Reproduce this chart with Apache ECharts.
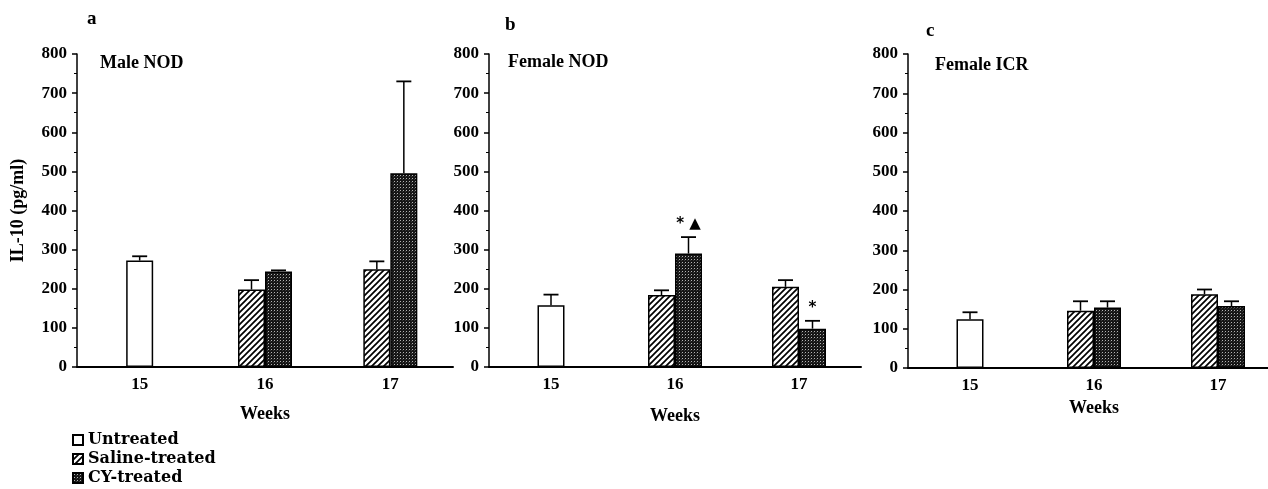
<!DOCTYPE html>
<html><head><meta charset="utf-8">
<script src="https://cdn.jsdelivr.net/npm/echarts@6/dist/echarts.min.js"></script>
<style>html,body{margin:0;padding:0;background:#fff}#c{width:1268px;height:489px}</style>
</head><body><div id="c"></div>
<script>
// ---------- data ----------
const weeks = ['15', '16', '17'];
const seriesNames = ['Untreated', 'Saline-treated', 'CY-treated'];
const panelLetters = ['a', 'b', 'c'];
const panelTitles = ['Male NOD', 'Female NOD', 'Female ICR'];
const yAxisTitle = 'IL-10 (pg/ml)';
const xAxisTitle = 'Weeks';

// Panel a: Male NOD
const untreatedA = [272, null, null];
const untreatedErrA = [11, null, null];
const salineA = [null, 198, 250];
const salineErrA = [null, 24, 20];
const cyA = [null, 244, 495];
const cyErrA = [null, 3, 235];
const sigA = [null, null, null];

// Panel b: Female NOD
const untreatedB = [158, null, null];
const untreatedErrB = [27, null, null];
const salineB = [null, 184, 205];
const salineErrB = [null, 12, 17];
const cyB = [null, 290, 98];
const cyErrB = [null, 42, 20];
const sigB = [null, '* \u25B2', '*'];

// Panel c: Female ICR
const untreatedC = [124, null, null];
const untreatedErrC = [18, null, null];
const salineC = [null, 146, 188];
const salineErrC = [null, 24, 12];
const cyC = [null, 154, 158];
const cyErrC = [null, 16, 12];
const sigC = [null, null, null];

// ---------- styling ----------
const SERIF = '"Liberation Serif", "Times New Roman", serif';
const BAR_W = 27;
const CAP_W = 15;

function hatchPattern() {
  const c = document.createElement('canvas');
  c.width = 6; c.height = 6;
  const g = c.getContext('2d');
  g.fillStyle = '#fff'; g.fillRect(0, 0, 6, 6);
  g.strokeStyle = '#000'; g.lineWidth = 1.7;
  g.beginPath();
  g.moveTo(-1, 7); g.lineTo(7, -1);
  g.moveTo(-1, 1); g.lineTo(1, -1);
  g.moveTo(5, 7); g.lineTo(7, 5);
  g.stroke();
  return c;
}
function stipplePattern() {
  const c = document.createElement('canvas');
  c.width = 3; c.height = 3;
  const g = c.getContext('2d');
  g.fillStyle = '#161616'; g.fillRect(0, 0, 3, 3);
  g.fillStyle = '#b4b4b4'; g.fillRect(1, 1, 1, 1);
  g.fillStyle = '#3a3a3a'; g.fillRect(0, 2, 1, 1);
  return c;
}
const hatch = { image: hatchPattern(), repeat: 'repeat' };
const stipple = { image: stipplePattern(), repeat: 'repeat' };

const panels = [
  { u: untreatedA, ue: untreatedErrA, s: salineA, se: salineErrA, cy: cyA, ce: cyErrA, sig: sigA,
    grid: { left: 77, top: 54, width: 376, height: 313 }, nameGap: 38, letter: [87, 10], title: [100, 54] },
  { u: untreatedB, ue: untreatedErrB, s: salineB, se: salineErrB, cy: cyB, ce: cyErrB, sig: sigB,
    grid: { left: 489, top: 54, width: 372, height: 313 }, nameGap: 40, letter: [505, 16], title: [508, 53] },
  { u: untreatedC, ue: untreatedErrC, s: salineC, se: salineErrC, cy: cyC, ce: cyErrC, sig: sigC,
    grid: { left: 908, top: 54, width: 372, height: 314 }, nameGap: 31, letter: [926, 22], title: [935, 56] }
];

const grids = [], xAxes = [], yAxes = [], series = [], titles = [];

function errData(vals, errs, off) {
  const out = [];
  vals.forEach((v, j) => { if (v != null) out.push([j, v, errs[j], off]); });
  return out;
}

panels.forEach((p, i) => {
  grids.push(Object.assign({ outerBoundsMode: 'none', containLabel: false }, p.grid));
  xAxes.push({
    type: 'category', data: weeks, gridIndex: i,
    axisLine: { lineStyle: { color: '#000', width: 2 } },
    axisTick: { show: false },
    axisLabel: { color: '#000', fontFamily: SERIF, fontWeight: 'bold', fontSize: 17, margin: 9 },
    name: xAxisTitle, nameLocation: 'middle', nameGap: p.nameGap,
    nameTextStyle: { color: '#000', fontFamily: SERIF, fontWeight: 'bold', fontSize: 18 }
  });
  xAxes.push({ type: 'category', data: weeks, gridIndex: i, show: false });
  yAxes.push({
    type: 'value', gridIndex: i, min: 0, max: 800, interval: 100,
    axisLine: { show: true, lineStyle: { color: '#000', width: 1.5 } },
    axisTick: { show: true, length: 5, lineStyle: { color: '#000', width: 1.5 } },
    minorTick: { show: true, splitNumber: 2, length: 3, lineStyle: { color: '#000', width: 1 } },
    splitLine: { show: false },
    axisLabel: { color: '#000', fontFamily: SERIF, fontWeight: 'bold', fontSize: 17, margin: 10 },
    name: i === 0 ? yAxisTitle : '', nameLocation: 'middle', nameGap: 50, nameRotate: 90,
    nameTextStyle: { color: '#000', fontFamily: SERIF, fontWeight: 'bold', fontSize: 18 }
  });
  titles.push({ text: panelLetters[i], left: p.letter[0], top: p.letter[1], padding: 0,
    textStyle: { color: '#000', fontFamily: SERIF, fontWeight: 'bold', fontSize: 19 } });
  titles.push({ text: panelTitles[i], left: p.title[0], top: p.title[1], padding: 0,
    textStyle: { color: '#000', fontFamily: SERIF, fontWeight: 'bold', fontSize: 18 } });

  const border = { borderColor: '#000', borderWidth: 1.5 };
  series.push({ type: 'bar', name: seriesNames[0], xAxisIndex: 2 * i + 1, yAxisIndex: i,
    data: p.u, barWidth: BAR_W, itemStyle: Object.assign({ color: '#fff' }, border), z: 2 });
  series.push({ type: 'bar', name: seriesNames[1], xAxisIndex: 2 * i, yAxisIndex: i,
    data: p.s, barWidth: BAR_W, barGap: '0%', itemStyle: Object.assign({ color: hatch }, border), z: 2 });
  series.push({ type: 'bar', name: seriesNames[2], xAxisIndex: 2 * i, yAxisIndex: i,
    data: p.cy, barWidth: BAR_W, barGap: '0%', itemStyle: Object.assign({ color: stipple }, border), z: 2 });

  const eb = errData(p.u, p.ue, 0).concat(errData(p.s, p.se, -0.5), errData(p.cy, p.ce, 0.5));
  series.push({
    type: 'custom', xAxisIndex: 2 * i, yAxisIndex: i, data: eb, z: 3, silent: true,
    renderItem: function (params, api) {
      const cat = api.value(0), v = api.value(1), e = api.value(2), off = api.value(3);
      const b = api.coord([cat, v]), t = api.coord([cat, v + e]);
      const x = b[0] + off * BAR_W;
      return { type: 'group', children: [
        { type: 'line', shape: { x1: x, y1: b[1], x2: x, y2: t[1] }, style: { stroke: '#000', lineWidth: 1.5 } },
        { type: 'line', shape: { x1: x - CAP_W / 2, y1: t[1], x2: x + CAP_W / 2, y2: t[1] }, style: { stroke: '#000', lineWidth: 1.8 } }
      ] };
    }
  });

  const sd = [];
  p.sig.forEach((s, j) => { if (s) sd.push([j, p.cy[j] + p.ce[j], s]); });
  if (sd.length) {
    series.push({
      type: 'custom', xAxisIndex: 2 * i, yAxisIndex: i, data: sd, z: 4, silent: true,
      renderItem: function (params, api) {
        const pt = api.coord([api.value(0), api.value(1)]);
        return { type: 'text', x: pt[0] + BAR_W / 2, y: pt[1] - 13,
          style: { text: sd[params.dataIndex][2], fill: '#000', align: 'center', verticalAlign: 'middle',
            font: 'bold 15px "DejaVu Sans", sans-serif' } };
      }
    });
  }
});

const chart = echarts.init(document.getElementById('c'), null, { renderer: 'canvas' });
chart.setOption({
  animation: false,
  backgroundColor: '#fff',
  title: titles,
  grid: grids,
  xAxis: xAxes,
  yAxis: yAxes,
  legend: {
    data: seriesNames, orient: 'vertical', left: 72, top: 432, padding: 0,
    itemWidth: 10, itemHeight: 10, itemGap: 3, icon: 'rect',
    textStyle: { color: '#000', fontFamily: '"DejaVu Serif", serif', fontWeight: 'bold', fontSize: 16 }
  },
  series: series
});
</script></body></html>
